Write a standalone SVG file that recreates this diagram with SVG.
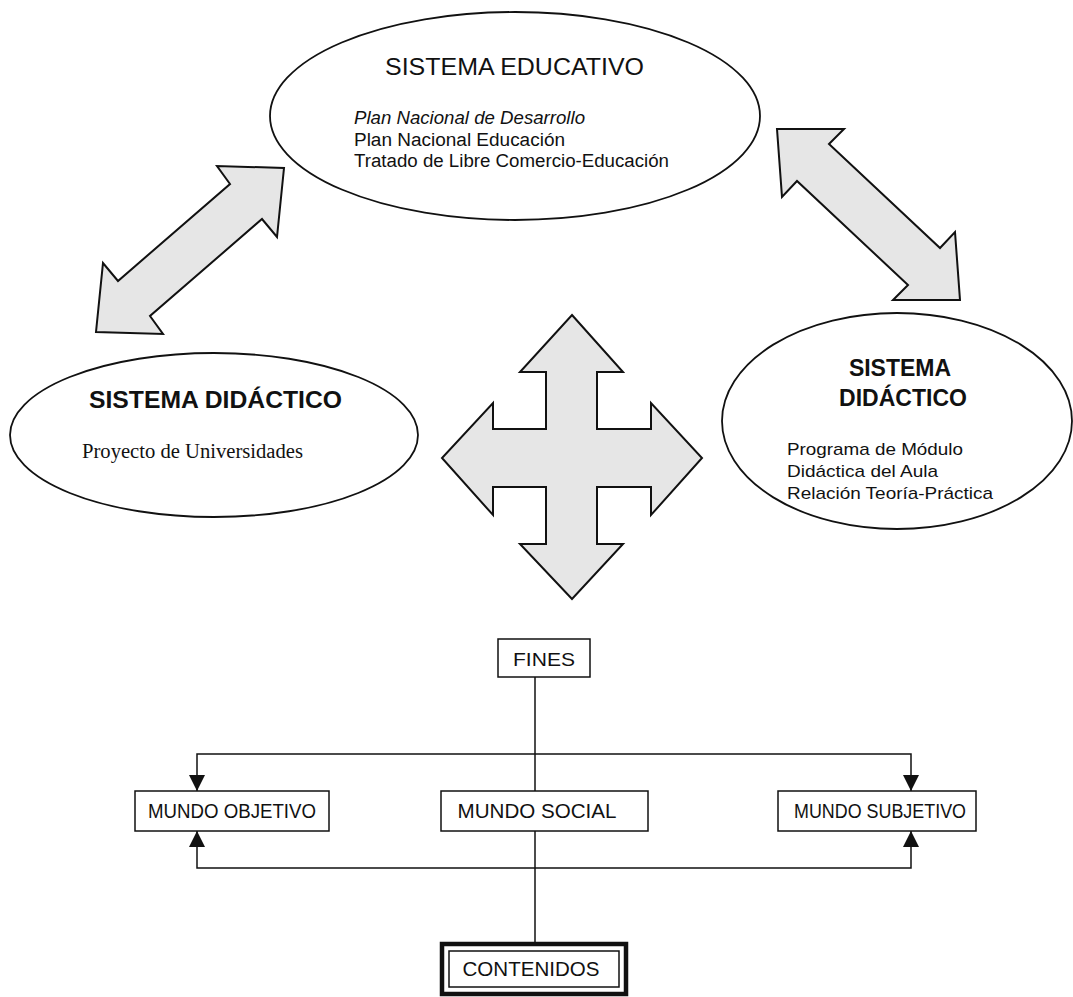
<svg xmlns="http://www.w3.org/2000/svg" width="1073" height="997" viewBox="0 0 1073 997">
<style>
.ell{fill:#ffffff;stroke:#111;stroke-width:1.8}
.arr{fill:#e6e6e6;stroke:#111;stroke-width:2;stroke-linejoin:miter}
.box{fill:#ffffff;stroke:#111;stroke-width:1.5}
.t{font-family:"Liberation Sans",Arial,sans-serif;fill:#111}
.b{font-weight:bold}
.s{font-family:"Liberation Serif","Times New Roman",serif;fill:#111}
.con{fill:none;stroke:#111;stroke-width:1.5}
</style>
<defs>
<marker id="ah" viewBox="0 0 10 10" refX="10" refY="5" markerWidth="16" markerHeight="16" markerUnits="userSpaceOnUse" orient="auto">
<path d="M0,0 L10,5 L0,10 z" fill="#111"/>
</marker>
</defs>
<rect width="1073" height="997" fill="#ffffff"/>

<g id="arrow-left">
<polygon class="arr" points="96,332 103,263 118,281 230,184 217,166 284,168 277,237 262,219 150,316 163,334"/>
</g>
<g id="arrow-right">
<polygon class="arr" points="777,129 844,129 829,144 940,248 955,232 960,300 893,300 908,285 797,181 782,197"/>
</g>
<g id="arrow-cross">
<polygon class="arr" points="572,315 623,372 597,372 597,429 651,429 651,403 702,458 651,515 651,487 597,487 597,544 623,544 572,599 520,544 546,544 546,487 493,487 493,515 442,458 493,403 493,429 546,429 546,372 520,372"/>
</g>

<g id="sistema-educativo">
<ellipse class="ell" cx="515" cy="116" rx="245" ry="104"/>
<text class="t" x="385" y="75" font-size="24" textLength="259" lengthAdjust="spacingAndGlyphs">SISTEMA EDUCATIVO</text>
<text class="t" x="354" y="124" font-size="18" font-style="italic" textLength="231" lengthAdjust="spacingAndGlyphs">Plan Nacional de Desarrollo</text>
<text class="t" x="354" y="146" font-size="18" textLength="211" lengthAdjust="spacingAndGlyphs">Plan Nacional Educación</text>
<text class="t" x="354" y="167" font-size="18" textLength="315" lengthAdjust="spacingAndGlyphs">Tratado de Libre Comercio-Educación</text>
</g>

<g id="sistema-didactico-left">
<ellipse class="ell" cx="214" cy="435" rx="204" ry="82"/>
<text class="t b" x="89" y="408" font-size="23" textLength="253" lengthAdjust="spacingAndGlyphs">SISTEMA DIDÁCTICO</text>
<text class="s" x="82" y="458" font-size="20" textLength="221" lengthAdjust="spacingAndGlyphs">Proyecto de Universidades</text>
</g>

<g id="sistema-didactico-right">
<ellipse class="ell" cx="897" cy="421" rx="175" ry="108"/>
<text class="t b" x="900" y="376" font-size="23" text-anchor="middle">SISTEMA</text>
<text class="t b" x="903" y="406" font-size="23" text-anchor="middle">DIDÁCTICO</text>
<text class="t" x="787" y="455" font-size="17" textLength="176" lengthAdjust="spacingAndGlyphs">Programa de Módulo</text>
<text class="t" x="787" y="477" font-size="17" textLength="151" lengthAdjust="spacingAndGlyphs">Didáctica del Aula</text>
<text class="t" x="787" y="499" font-size="17" textLength="206" lengthAdjust="spacingAndGlyphs">Relación Teoría-Práctica</text>
</g>

<g id="connectors">
<path class="con" d="M535,677 V791"/>
<path class="con" d="M535,754 H197 V791" marker-end="url(#ah)"/>
<path class="con" d="M535,754 H911 V791" marker-end="url(#ah)"/>
<path class="con" d="M535,830 V943"/>
<path class="con" d="M535,868 H197 V831" marker-end="url(#ah)"/>
<path class="con" d="M535,868 H911 V831" marker-end="url(#ah)"/>
</g>

<g id="fines">
<rect class="box" x="498" y="639" width="92" height="38"/>
<text class="t" x="544" y="666" font-size="19" text-anchor="middle" textLength="62" lengthAdjust="spacingAndGlyphs">FINES</text>
</g>
<g id="mundo-objetivo">
<rect class="box" x="135" y="791" width="194" height="40"/>
<text class="t" x="232" y="818" font-size="20" text-anchor="middle" textLength="168" lengthAdjust="spacingAndGlyphs">MUNDO OBJETIVO</text>
</g>
<g id="mundo-social">
<rect class="box" x="441" y="791" width="207" height="40"/>
<text class="t" x="537" y="818" font-size="20" text-anchor="middle" textLength="159" lengthAdjust="spacingAndGlyphs">MUNDO SOCIAL</text>
</g>
<g id="mundo-subjetivo">
<rect class="box" x="778" y="791" width="198" height="40"/>
<text class="t" x="880" y="818" font-size="20" text-anchor="middle" textLength="172" lengthAdjust="spacingAndGlyphs">MUNDO SUBJETIVO</text>
</g>
<g id="contenidos">
<rect x="442" y="944" width="184" height="50" fill="#ffffff" stroke="#111" stroke-width="4.5"/>
<rect x="449" y="951" width="170" height="36" fill="none" stroke="#111" stroke-width="1.5"/>
<text class="t" x="531" y="976" font-size="20" text-anchor="middle" textLength="137" lengthAdjust="spacingAndGlyphs">CONTENIDOS</text>
</g>
</svg>
